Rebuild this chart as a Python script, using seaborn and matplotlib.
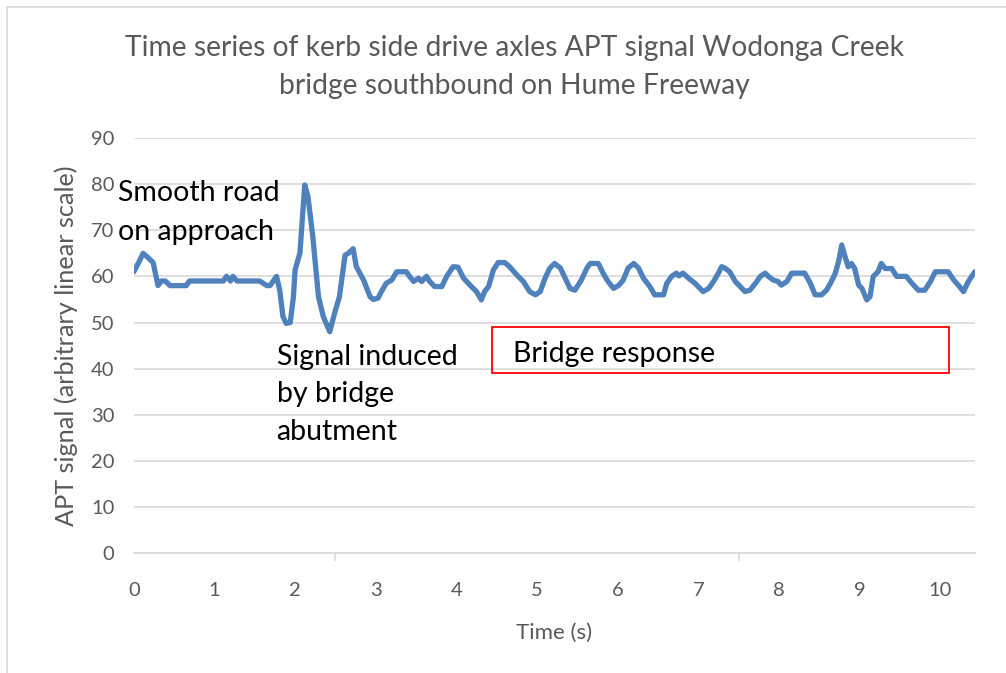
import matplotlib
matplotlib.use("Agg")
import matplotlib.pyplot as plt
import seaborn as sns
import pandas as pd
from matplotlib.patches import Rectangle

# signal
time_s = [0, 0.06, 0.115, 0.18, 0.24, 0.3, 0.34, 0.39, 0.45, 0.65,
          0.69, 1.11, 1.15, 1.2, 1.23, 1.28, 1.56, 1.65, 1.69, 1.73,
          1.77, 1.81, 1.85, 1.89, 1.94, 1.98, 2.0, 2.06, 2.12, 2.16,
          2.22, 2.29, 2.35, 2.43, 2.49, 2.55, 2.62, 2.66, 2.72, 2.76,
          2.85, 2.93, 2.97, 3.03, 3.07, 3.13, 3.2, 3.26, 3.34, 3.38,
          3.42, 3.47, 3.53, 3.57, 3.63, 3.67, 3.73, 3.82, 3.88, 3.96,
          4.02, 4.09, 4.17, 4.25, 4.31, 4.35, 4.4, 4.46, 4.52, 4.6,
          4.66, 4.75, 4.83, 4.91, 4.98, 5.04, 5.1, 5.16, 5.22, 5.29,
          5.35, 5.41, 5.47, 5.55, 5.62, 5.66, 5.76, 5.82, 5.88, 5.95,
          6.01, 6.07, 6.13, 6.2, 6.26, 6.32, 6.4, 6.46, 6.57, 6.61,
          6.67, 6.73, 6.76, 6.81, 6.88, 6.96, 7.02, 7.06, 7.13, 7.19,
          7.25, 7.29, 7.33, 7.39, 7.46, 7.52, 7.58, 7.64, 7.71, 7.77,
          7.83, 7.87, 7.93, 7.99, 8.03, 8.1, 8.16, 8.32, 8.39, 8.45,
          8.53, 8.59, 8.64, 8.7, 8.74, 8.78, 8.82, 8.86, 8.9, 8.94,
          8.99, 9.03, 9.09, 9.13, 9.17, 9.23, 9.27, 9.32, 9.4, 9.46,
          9.58, 9.65, 9.73, 9.81, 9.88, 9.94, 10.1, 10.17, 10.23, 10.29,
          10.35, 10.43]

apt_signal = [61, 63, 65, 64, 63, 58, 59, 59, 58, 58,
              59, 59, 60, 59, 60, 59, 59, 58, 58, 59,
              60, 57, 51.3, 49.8, 50, 55.6, 61.4, 65, 79.8, 77.3,
              68.6, 55.6, 51.3, 48, 52, 55.6, 64.6, 65, 66, 62.1,
              59.2, 55.6, 55, 55.3, 56.7, 58.5, 59.2, 61, 61, 61,
              60, 58.9, 59.6, 58.9, 60, 58.9, 57.8, 57.8, 60, 62.1,
              62, 59.6, 58.1, 56.7, 54.9, 56.7, 57.8, 61.4, 63, 63,
              62.1, 60.3, 58.9, 56.7, 56, 56.7, 59.6, 61.8, 62.8, 61.8,
              59.6, 57.4, 57, 59.2, 61.8, 62.8, 62.8, 60.7, 58.9, 57.4,
              58, 59.2, 61.8, 62.8, 61.8, 59.6, 57.8, 56, 56, 58.5,
              60, 60.7, 60.1, 60.7, 59.6, 58.5, 57.4, 56.7, 57.4, 58.9,
              60.7, 62.1, 61.8, 61, 58.9, 57.8, 56.7, 57, 58.5, 60,
              60.7, 60, 59.2, 58.9, 58.1, 58.9, 60.7, 60.7, 58.5, 56,
              56, 57, 58.5, 60.7, 63.2, 66.8, 64.3, 62.1, 62.8, 61.7,
              58.1, 57.4, 54.9, 55.6, 60, 61, 62.8, 61.7, 61.7, 60,
              60, 58.5, 57, 57, 58.9, 61, 61, 59.2, 58, 56.7,
              58.9, 61]

x_ticks = list(range(0, 11))
y_ticks = list(range(0, 100, 10))

df = pd.DataFrame({"time": time_s, "signal": apt_signal})

sns.set_theme(style="white")
plt.rcParams["font.family"] = ["Lato", "DejaVu Sans"]

grey = "#595959"
fig = plt.figure(figsize=(10.06, 6.73), dpi=100)
ax = fig.add_axes([0.133, 0.178, 0.836, 0.617])

sns.lineplot(data=df, x="time", y="signal", ax=ax, color="#4f81bd", linewidth=3.8)

ax.set_xlim(0, 10.43)
ax.set_ylim(0, 90)
ax.set_yticks(y_ticks)
ax.set_xticks(x_ticks)
ax.set_xticks([0, 2.5, 5, 7.5, 10], minor=True)
ax.grid(axis="y", color="#d9d9d9", linewidth=1.2)
ax.set_axisbelow(True)
for s in ["top", "right", "left"]:
    ax.spines[s].set_visible(False)
ax.spines["bottom"].set_color("#d9d9d9")
ax.spines["bottom"].set_linewidth(1.2)
ax.tick_params(axis="x", which="major", length=0, pad=21, labelsize=14.5, labelcolor=grey)
ax.tick_params(axis="x", which="minor", bottom=True, length=6, color="#d9d9d9", width=1.2)
ax.tick_params(axis="y", length=0, pad=14, labelsize=14.5, labelcolor=grey)

ax.set_xlabel("Time (s)", fontsize=16, color=grey, labelpad=17)
ax.set_ylabel("APT signal (arbitrary linear scale)", fontsize=18.2, color=grey, labelpad=9)

fig.text(0.511, 0.9, "Time series of kerb side drive axles APT signal Wodonga Creek\nbridge southbound on Hume Freeway",
         ha="center", va="center", fontsize=20.3, color=grey, linespacing=1.58)

ax.text(-0.19, 80.8, "Smooth road\non approach", fontsize=20.5, color="black",
        ha="left", va="top", linespacing=1.58)
ax.text(1.77, 45.4, "Signal induced\nby bridge\nabutment", fontsize=20.5, color="black",
        ha="left", va="top", linespacing=1.56)
ax.add_patch(Rectangle((4.44, 39.0), 5.67, 10.0, fill=False, edgecolor="red", linewidth=1.3))
ax.text(4.7, 43.2, "Bridge response", fontsize=20.5, color="black", ha="left", va="center")

# chart border
fig.add_artist(Rectangle((0.007, -0.02), 1.1, 1.01, transform=fig.transFigure,
                         fill=False, edgecolor="#d9d9d9", linewidth=1.2))

fig.savefig("out.png", dpi=100)
